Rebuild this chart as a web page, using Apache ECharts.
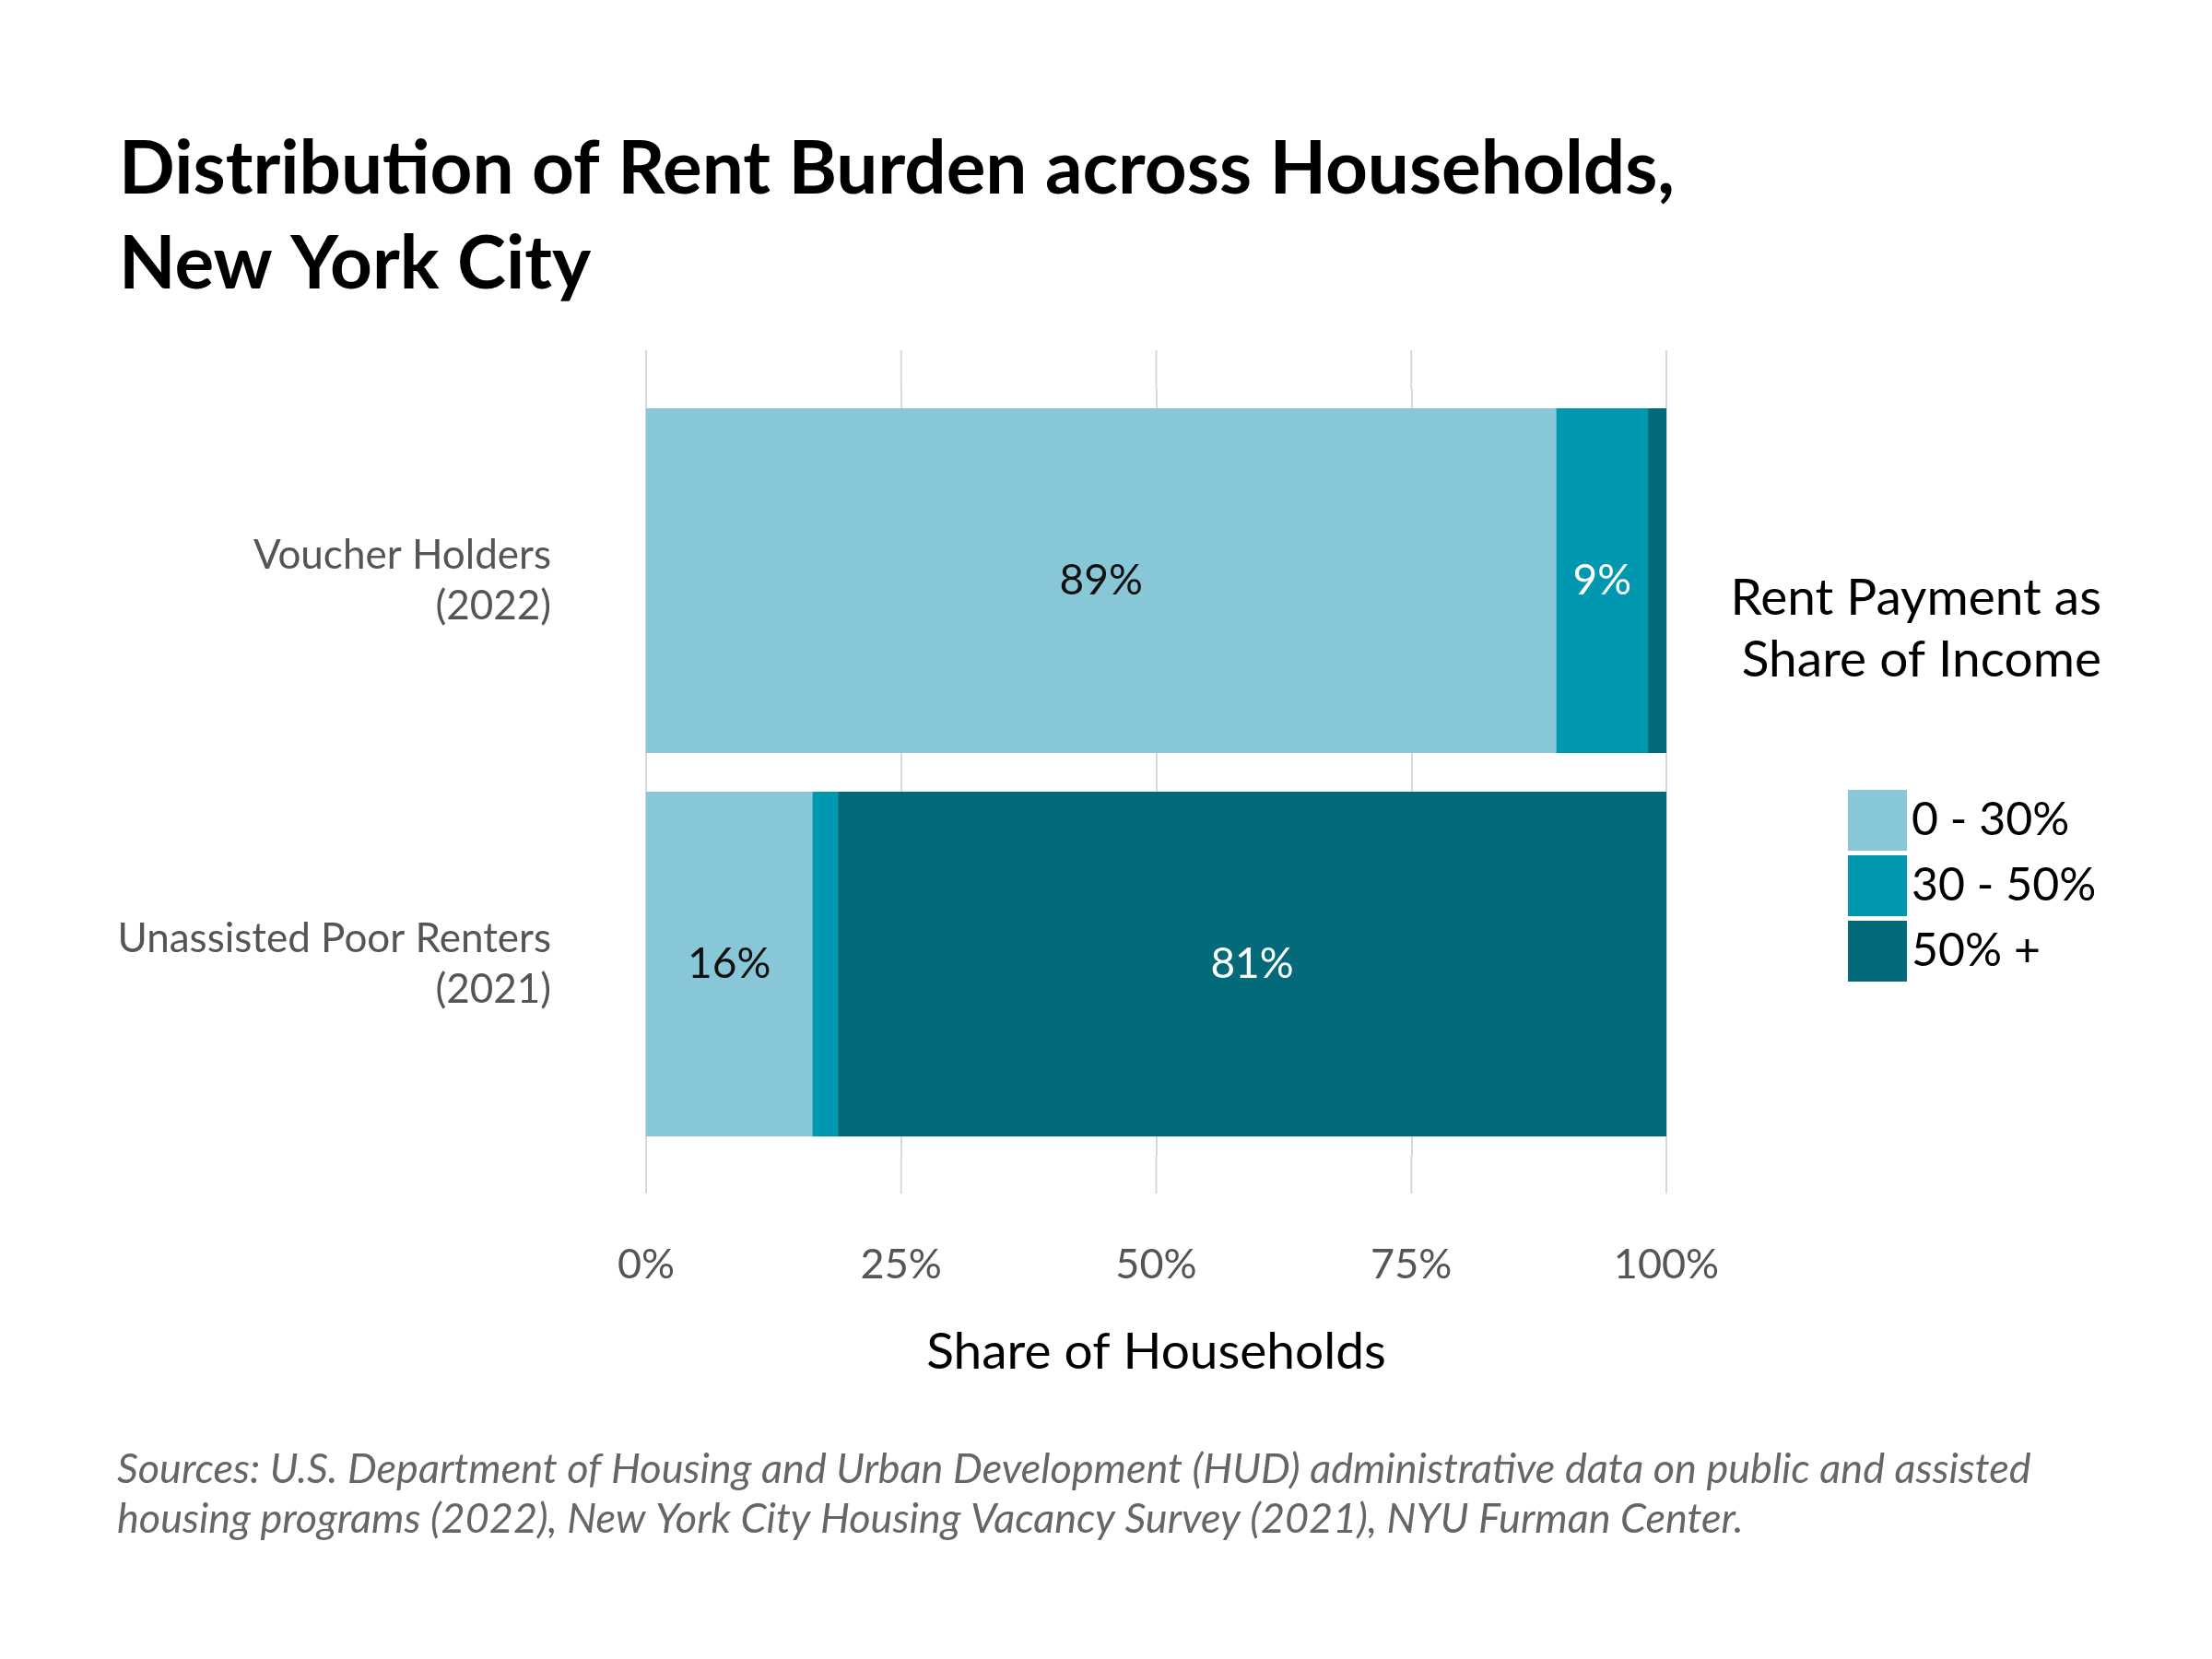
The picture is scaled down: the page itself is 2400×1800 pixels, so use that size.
<!DOCTYPE html>
<html lang="en">
<head>
<meta charset="UTF-8">
<title>Distribution of Rent Burden</title>
<script src="https://cdn.jsdelivr.net/npm/echarts@6/dist/echarts.min.js"></script>
<style>html,body{margin:0;background:#fff}#chart{width:2400px;height:1800px}</style>
</head>
<body>
<div id="chart"></div>
<script>
var categories = ['Unassisted Poor Renters\n(2021)', 'Voucher Holders\n(2022)'];
var seriesNames = ['0 - 30%', '30 - 50%', '50% +'];
var low = [16.3, 89.2];
var mid = [2.5, 9.0];
var high = [81.2, 1.8];
var colors = ['#88c7d7', '#0097b0', '#036a79'];
var labelColors = ['#111', '#fff', '#fff'];
var ticks = [0, 25, 50, 75, 100];

var font = 'Lato, "Open Sans", sans-serif';
var chart = echarts.init(document.getElementById('chart'));
var values = [low, mid, high];
var series = [];
for (var i = 0; i < 3; i++) {
	series.push({
		name: seriesNames[i], type: 'bar', stack: 'all', data: values[i],
		barWidth: 374, itemStyle: {color: colors[i]},
		label: {
			show: true, color: labelColors[i], fontSize: 46, fontFamily: font,
			formatter: function (p) { return p.value >= 5 ? Math.round(p.value) + '%' : ''; }
		}
	});
}
chart.setOption({
	animation: false,
	color: colors,
	title: {
		text: 'Distribution of Rent Burden across Households,\nNew York City',
		left: 124, top: 128,
		textStyle: {fontSize: 80, fontWeight: 'bold', fontFamily: font, color: '#000', lineHeight: 103}
	},
	legend: {
		orient: 'vertical', left: 2000, top: 852, itemWidth: 64, itemHeight: 66, itemGap: 5,
		icon: 'rect', data: seriesNames,
		textStyle: {fontSize: 50, fontFamily: font, color: '#000'}
	},
	grid: {left: 701, width: 1107, top: 422, height: 832},
	xAxis: {
		type: 'value', min: 0, max: 100, interval: 25,
		axisLine: {show: false}, axisTick: {show: false},
		splitLine: {lineStyle: {color: '#d8d8d8', width: 2}},
		axisLabel: {margin: 96, fontSize: 45, color: '#555', fontFamily: font, formatter: '{value}%'},
		name: 'Share of Households', nameLocation: 'middle', nameGap: 186,
		nameTextStyle: {fontSize: 55, color: '#000', fontFamily: font}
	},
	yAxis: {
		type: 'category', data: categories,
		axisLine: {show: false}, axisTick: {show: false},
		axisLabel: {margin: 103, fontSize: 44, color: '#555', fontFamily: font, lineHeight: 55, align: 'right'}
	},
	series: series,
	graphic: [
		{type: 'text', right: 120, top: 616, style: {text: 'Rent Payment as\nShare of Income', font: '55px ' + font, fill: '#000', textAlign: 'right', lineHeight: 67}},
		{type: 'text', left: 127, top: 1567, style: {text: 'Sources: U.S. Department of Housing and Urban Development (HUD) administrative data on public and assisted\nhousing programs (2022), New York City Housing Vacancy Survey (2021), NYU Furman Center.', font: 'italic 45px ' + font, fill: '#666', lineHeight: 54}}
	]
});
// extend gridlines above and below the bars
var extra = [];
ticks.forEach(function (t) {
	var x = chart.convertToPixel({gridIndex: 0}, [t, 0])[0];
	extra.push({type: 'line', shape: {x1: x, y1: 380, x2: x, y2: 422}, style: {stroke: '#d8d8d8', lineWidth: 2}, z: -1});
	extra.push({type: 'line', shape: {x1: x, y1: 1254, x2: x, y2: 1295}, style: {stroke: '#d8d8d8', lineWidth: 2}, z: -1});
});
var opt = chart.getOption();
chart.setOption({graphic: opt.graphic[0].elements.concat(extra)});
</script>
</body>
</html>
